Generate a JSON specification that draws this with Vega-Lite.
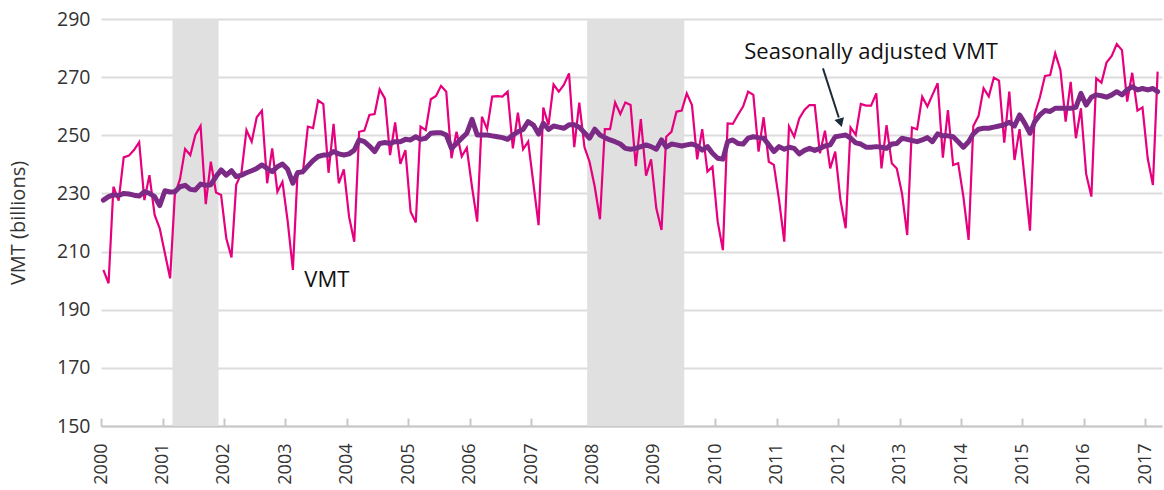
{
  "$schema": "https://vega.github.io/schema/vega-lite/v6.json",
  "width": 1061,
  "height": 407,
  "autosize": {"type": "none"},
  "padding": {"left": 101, "top": 19, "right": 2, "bottom": 64},
  "config": {"font": "Open Sans", "view": {"stroke": null}},
  "datasets": {
    "recessions": [
      {"start": "2001-03-01", "end": "2001-11-30"},
      {"start": "2007-12-01", "end": "2009-06-30"}
    ],
    "vmt": [
      {"date":"2000-01-15","vmt":203.7,"sa":227.7},{"date":"2000-02-15","vmt":199.1,"sa":228.9},{"date":"2000-03-15","vmt":232.3,"sa":229.5},{"date":"2000-04-15","vmt":227.5,"sa":229.3},{"date":"2000-05-15","vmt":242.4,"sa":230.0},{"date":"2000-06-15","vmt":243.0,"sa":229.8},{"date":"2000-07-15","vmt":244.9,"sa":229.4},{"date":"2000-08-15","vmt":247.6,"sa":229.1},{"date":"2000-09-15","vmt":227.7,"sa":230.6},{"date":"2000-10-15","vmt":236.3,"sa":230.0},{"date":"2000-11-15","vmt":222.6,"sa":228.9},{"date":"2000-12-15","vmt":218.0,"sa":225.8},
      {"date":"2001-01-15","vmt":209.4,"sa":230.9},{"date":"2001-02-15","vmt":200.8,"sa":230.5},{"date":"2001-03-15","vmt":229.5,"sa":230.6},{"date":"2001-04-15","vmt":235.0,"sa":232.3},{"date":"2001-05-15","vmt":245.3,"sa":232.8},{"date":"2001-06-15","vmt":243.2,"sa":231.4},{"date":"2001-07-15","vmt":250.1,"sa":231.2},{"date":"2001-08-15","vmt":253.2,"sa":233.2},{"date":"2001-09-15","vmt":226.3,"sa":232.8},{"date":"2001-10-15","vmt":240.9,"sa":233.0},{"date":"2001-11-15","vmt":230.3,"sa":235.8},{"date":"2001-12-15","vmt":229.5,"sa":238.1},
      {"date":"2002-01-15","vmt":214.6,"sa":236.3},{"date":"2002-02-15","vmt":208.0,"sa":237.8},{"date":"2002-03-15","vmt":233.0,"sa":235.8},{"date":"2002-04-15","vmt":237.0,"sa":236.3},{"date":"2002-05-15","vmt":251.8,"sa":237.1},{"date":"2002-06-15","vmt":247.8,"sa":237.8},{"date":"2002-07-15","vmt":256.2,"sa":238.6},{"date":"2002-08-15","vmt":258.5,"sa":239.8},{"date":"2002-09-15","vmt":233.5,"sa":238.6},{"date":"2002-10-15","vmt":245.5,"sa":237.5},{"date":"2002-11-15","vmt":230.6,"sa":239.2},{"date":"2002-12-15","vmt":234.0,"sa":240.1},
      {"date":"2003-01-15","vmt":220.5,"sa":238.3},{"date":"2003-02-15","vmt":203.7,"sa":233.5},{"date":"2003-03-15","vmt":237.5,"sa":237.1},{"date":"2003-04-15","vmt":237.0,"sa":237.5},{"date":"2003-05-15","vmt":253.0,"sa":239.4},{"date":"2003-06-15","vmt":252.5,"sa":241.3},{"date":"2003-07-15","vmt":262.0,"sa":242.7},{"date":"2003-08-15","vmt":260.7,"sa":243.2},{"date":"2003-09-15","vmt":237.1,"sa":243.2},{"date":"2003-10-15","vmt":253.9,"sa":244.4},{"date":"2003-11-15","vmt":233.5,"sa":243.6},{"date":"2003-12-15","vmt":238.3,"sa":243.2},
      {"date":"2004-01-15","vmt":222.0,"sa":243.6},{"date":"2004-02-15","vmt":213.4,"sa":244.9},{"date":"2004-03-15","vmt":251.2,"sa":248.4},{"date":"2004-04-15","vmt":251.6,"sa":247.8},{"date":"2004-05-15","vmt":257.0,"sa":246.3},{"date":"2004-06-15","vmt":257.3,"sa":244.4},{"date":"2004-07-15","vmt":265.8,"sa":247.2},{"date":"2004-08-15","vmt":262.7,"sa":247.5},{"date":"2004-09-15","vmt":243.2,"sa":247.2},{"date":"2004-10-15","vmt":254.4,"sa":247.8},{"date":"2004-11-15","vmt":240.2,"sa":247.8},{"date":"2004-12-15","vmt":244.9,"sa":248.6},
      {"date":"2005-01-15","vmt":223.7,"sa":248.4},{"date":"2005-02-15","vmt":220.0,"sa":249.5},{"date":"2005-03-15","vmt":253.0,"sa":248.6},{"date":"2005-04-15","vmt":251.8,"sa":249.0},{"date":"2005-05-15","vmt":262.4,"sa":250.7},{"date":"2005-06-15","vmt":263.5,"sa":250.9},{"date":"2005-07-15","vmt":267.0,"sa":250.9},{"date":"2005-08-15","vmt":265.0,"sa":250.1},{"date":"2005-09-15","vmt":242.1,"sa":245.5},{"date":"2005-10-15","vmt":251.2,"sa":247.2},{"date":"2005-11-15","vmt":242.7,"sa":249.0},{"date":"2005-12-15","vmt":245.7,"sa":250.7},
      {"date":"2006-01-15","vmt":232.3,"sa":255.5},{"date":"2006-02-15","vmt":220.3,"sa":250.1},{"date":"2006-03-15","vmt":256.4,"sa":250.1},{"date":"2006-04-15","vmt":252.1,"sa":250.1},{"date":"2006-05-15","vmt":263.3,"sa":249.8},{"date":"2006-06-15","vmt":263.5,"sa":249.5},{"date":"2006-07-15","vmt":263.3,"sa":249.2},{"date":"2006-08-15","vmt":265.0,"sa":248.6},{"date":"2006-09-15","vmt":245.5,"sa":250.1},{"date":"2006-10-15","vmt":257.8,"sa":251.2},{"date":"2006-11-15","vmt":245.2,"sa":252.0},{"date":"2006-12-15","vmt":247.8,"sa":254.7},
      {"date":"2007-01-15","vmt":233.5,"sa":253.5},{"date":"2007-02-15","vmt":219.1,"sa":250.4},{"date":"2007-03-15","vmt":259.5,"sa":254.1},{"date":"2007-04-15","vmt":253.5,"sa":252.0},{"date":"2007-05-15","vmt":267.5,"sa":253.2},{"date":"2007-06-15","vmt":265.0,"sa":252.8},{"date":"2007-07-15","vmt":267.3,"sa":252.4},{"date":"2007-08-15","vmt":271.3,"sa":253.6},{"date":"2007-09-15","vmt":245.9,"sa":253.6},{"date":"2007-10-15","vmt":261.2,"sa":252.8},{"date":"2007-11-15","vmt":245.9,"sa":250.9},{"date":"2007-12-15","vmt":240.9,"sa":249.0},
      {"date":"2008-01-15","vmt":232.3,"sa":252.1},{"date":"2008-02-15","vmt":221.1,"sa":250.1},{"date":"2008-03-15","vmt":252.1,"sa":249.2},{"date":"2008-04-15","vmt":252.1,"sa":248.4},{"date":"2008-05-15","vmt":261.3,"sa":247.8},{"date":"2008-06-15","vmt":257.3,"sa":247.0},{"date":"2008-07-15","vmt":261.3,"sa":245.5},{"date":"2008-08-15","vmt":260.4,"sa":245.2},{"date":"2008-09-15","vmt":239.4,"sa":245.5},{"date":"2008-10-15","vmt":255.6,"sa":246.1},{"date":"2008-11-15","vmt":236.1,"sa":246.7},{"date":"2008-12-15","vmt":241.7,"sa":246.1},
      {"date":"2009-01-15","vmt":224.9,"sa":245.2},{"date":"2009-02-15","vmt":217.4,"sa":248.4},{"date":"2009-03-15","vmt":249.5,"sa":245.9},{"date":"2009-04-15","vmt":251.2,"sa":247.0},{"date":"2009-05-15","vmt":258.1,"sa":246.7},{"date":"2009-06-15","vmt":258.5,"sa":246.3},{"date":"2009-07-15","vmt":264.4,"sa":246.7},{"date":"2009-08-15","vmt":260.4,"sa":247.0},{"date":"2009-09-15","vmt":241.7,"sa":246.3},{"date":"2009-10-15","vmt":252.1,"sa":244.9},{"date":"2009-11-15","vmt":237.5,"sa":246.1},{"date":"2009-12-15","vmt":239.2,"sa":243.8},
      {"date":"2010-01-15","vmt":220.3,"sa":242.1},{"date":"2010-02-15","vmt":210.5,"sa":241.8},{"date":"2010-03-15","vmt":254.1,"sa":247.8},{"date":"2010-04-15","vmt":253.9,"sa":248.4},{"date":"2010-05-15","vmt":257.0,"sa":247.2},{"date":"2010-06-15","vmt":259.9,"sa":247.0},{"date":"2010-07-15","vmt":265.0,"sa":249.0},{"date":"2010-08-15","vmt":263.9,"sa":249.5},{"date":"2010-09-15","vmt":244.4,"sa":249.2},{"date":"2010-10-15","vmt":256.2,"sa":249.0},{"date":"2010-11-15","vmt":240.9,"sa":246.7},{"date":"2010-12-15","vmt":239.8,"sa":244.4},
      {"date":"2011-01-15","vmt":227.7,"sa":246.1},{"date":"2011-02-15","vmt":213.4,"sa":245.2},{"date":"2011-03-15","vmt":253.0,"sa":245.9},{"date":"2011-04-15","vmt":249.5,"sa":245.5},{"date":"2011-05-15","vmt":255.8,"sa":243.6},{"date":"2011-06-15","vmt":258.7,"sa":244.8},{"date":"2011-07-15","vmt":260.4,"sa":245.5},{"date":"2011-08-15","vmt":260.4,"sa":244.8},{"date":"2011-09-15","vmt":243.8,"sa":245.5},{"date":"2011-10-15","vmt":251.6,"sa":246.3},{"date":"2011-11-15","vmt":238.6,"sa":246.7},{"date":"2011-12-15","vmt":244.4,"sa":249.5},
      {"date":"2012-01-15","vmt":227.7,"sa":249.8},{"date":"2012-02-15","vmt":218.0,"sa":250.1},{"date":"2012-03-15","vmt":252.7,"sa":249.0},{"date":"2012-04-15","vmt":250.1,"sa":247.4},{"date":"2012-05-15","vmt":260.8,"sa":247.0},{"date":"2012-06-15","vmt":260.2,"sa":245.9},{"date":"2012-07-15","vmt":260.2,"sa":245.9},{"date":"2012-08-15","vmt":264.4,"sa":246.1},{"date":"2012-09-15","vmt":238.6,"sa":245.9},{"date":"2012-10-15","vmt":253.5,"sa":245.5},{"date":"2012-11-15","vmt":240.4,"sa":247.0},{"date":"2012-12-15","vmt":238.6,"sa":247.2},
      {"date":"2013-01-15","vmt":230.0,"sa":249.0},{"date":"2013-02-15","vmt":215.7,"sa":248.6},{"date":"2013-03-15","vmt":252.7,"sa":248.2},{"date":"2013-04-15","vmt":252.1,"sa":247.8},{"date":"2013-05-15","vmt":263.3,"sa":248.4},{"date":"2013-06-15","vmt":259.9,"sa":249.2},{"date":"2013-07-15","vmt":263.9,"sa":247.8},{"date":"2013-08-15","vmt":267.9,"sa":250.5},{"date":"2013-09-15","vmt":242.3,"sa":249.8},{"date":"2013-10-15","vmt":258.7,"sa":249.8},{"date":"2013-11-15","vmt":239.8,"sa":249.5},{"date":"2013-12-15","vmt":240.4,"sa":247.8},
      {"date":"2014-01-15","vmt":228.9,"sa":245.9},{"date":"2014-02-15","vmt":214.0,"sa":247.8},{"date":"2014-03-15","vmt":253.2,"sa":250.5},{"date":"2014-04-15","vmt":256.6,"sa":252.1},{"date":"2014-05-15","vmt":266.2,"sa":252.4},{"date":"2014-06-15","vmt":263.3,"sa":252.4},{"date":"2014-07-15","vmt":269.8,"sa":252.8},{"date":"2014-08-15","vmt":268.8,"sa":253.2},{"date":"2014-09-15","vmt":247.5,"sa":253.6},{"date":"2014-10-15","vmt":265.0,"sa":254.5},{"date":"2014-11-15","vmt":241.5,"sa":253.2},{"date":"2014-12-15","vmt":252.1,"sa":257.0},
      {"date":"2015-01-15","vmt":234.6,"sa":254.1},{"date":"2015-02-15","vmt":217.2,"sa":250.7},{"date":"2015-03-15","vmt":257.3,"sa":254.7},{"date":"2015-04-15","vmt":263.1,"sa":257.0},{"date":"2015-05-15","vmt":270.4,"sa":258.5},{"date":"2015-06-15","vmt":270.7,"sa":258.2},{"date":"2015-07-15","vmt":278.2,"sa":259.3},{"date":"2015-08-15","vmt":272.5,"sa":259.3},{"date":"2015-09-15","vmt":254.7,"sa":259.3},{"date":"2015-10-15","vmt":268.4,"sa":259.3},{"date":"2015-11-15","vmt":249.0,"sa":259.6},{"date":"2015-12-15","vmt":259.3,"sa":264.4},
      {"date":"2016-01-15","vmt":236.7,"sa":260.4},{"date":"2016-02-15","vmt":228.9,"sa":263.1},{"date":"2016-03-15","vmt":269.6,"sa":263.9},{"date":"2016-04-15","vmt":268.1,"sa":263.6},{"date":"2016-05-15","vmt":275.0,"sa":263.1},{"date":"2016-06-15","vmt":277.3,"sa":263.9},{"date":"2016-07-15","vmt":281.4,"sa":265.0},{"date":"2016-08-15","vmt":279.3,"sa":263.9},{"date":"2016-09-15","vmt":261.6,"sa":265.6},{"date":"2016-10-15","vmt":271.5,"sa":266.7},{"date":"2016-11-15","vmt":258.5,"sa":265.6},{"date":"2016-12-15","vmt":259.6,"sa":266.1},
      {"date":"2017-01-15","vmt":242.1,"sa":265.6},{"date":"2017-02-15","vmt":232.9,"sa":266.1},{"date":"2017-03-15","vmt":271.9,"sa":265.0}
    ]
  },
  "layer": [
    {
      "data": {"name": "recessions"},
      "mark": {"type": "rect", "color": "#e0e0e0"},
      "encoding": {
        "x": {
          "field": "start", "type": "temporal",
          "scale": {"domain": [{"year": 2000, "month": 1, "date": 1}, {"year": 2017, "month": 4, "date": 10}]},
          "axis": {
            "title": null, "format": "%Y", "tickCount": {"interval": "year", "step": 1},
            "grid": false, "labelAngle": -90, "labelFontSize": 18, "labelColor": "#333333",
            "labelPadding": 25, "domainColor": "#c8c8c8", "domainWidth": 2,
            "tickColor": "#c8c8c8", "tickWidth": 2, "tickSize": -8, "labelFlush": false
          }
        },
        "x2": {"field": "end"}
      }
    },
    {
      "data": {"name": "vmt"},
      "mark": {"type": "line", "color": "#e6007e", "strokeWidth": 2.2, "strokeJoin": "miter"},
      "encoding": {
        "x": {"field": "date", "type": "temporal"},
        "y": {
          "field": "vmt", "type": "quantitative",
          "scale": {"domain": [150, 290], "nice": false, "zero": false},
          "axis": {
            "title": "VMT (billions)", "values": [150, 170, 190, 210, 230, 250, 270, 290],
            "grid": true, "gridColor": "#dcdcdc", "gridWidth": 2, "domain": false, "ticks": false,
            "labelFontSize": 19.5, "labelColor": "#333333", "labelPadding": 11,
            "titleFontSize": 20, "titleFontWeight": "normal", "titleColor": "#333333", "titlePadding": 28
          }
        }
      }
    },
    {
      "data": {"name": "vmt"},
      "mark": {"type": "line", "color": "#7b2a86", "strokeWidth": 5, "strokeJoin": "round", "strokeCap": "round"},
      "encoding": {
        "x": {"field": "date", "type": "temporal"},
        "y": {"field": "sa", "type": "quantitative"}
      }
    },
    {
      "data": {"values": [{}]},
      "mark": {"type": "text", "text": "VMT", "fontSize": 22, "color": "#111111", "align": "center", "baseline": "middle"},
      "encoding": {
        "x": {"datum": {"year": 2003, "month": 9, "date": 5}, "type": "temporal"},
        "y": {"datum": 200.2, "type": "quantitative"}
      }
    },
    {
      "data": {"values": [{}]},
      "mark": {"type": "text", "text": "Seasonally adjusted VMT", "fontSize": 22, "color": "#111111", "align": "center", "baseline": "middle"},
      "encoding": {
        "x": {"datum": {"year": 2012, "month": 7, "date": 15}, "type": "temporal"},
        "y": {"datum": 278.7, "type": "quantitative"}
      }
    },
    {
      "data": {"values": [{}]},
      "mark": {"type": "rule", "color": "#1c2b39", "strokeWidth": 2},
      "encoding": {
        "x": {"datum": {"year": 2011, "month": 10, "date": 3}, "type": "temporal"},
        "y": {"datum": 273.0, "type": "quantitative"},
        "x2": {"datum": {"year": 2012, "month": 1, "date": 5}},
        "y2": {"datum": 256.1}
      }
    },
    {
      "data": {"values": [{}]},
      "mark": {"type": "point", "shape": "triangle-down", "filled": true, "color": "#1c2b39", "size": 100, "angle": -17, "opacity": 1},
      "encoding": {
        "x": {"datum": {"year": 2012, "month": 1, "date": 15}, "type": "temporal"},
        "y": {"datum": 254.3, "type": "quantitative"}
      }
    }
  ]
}
